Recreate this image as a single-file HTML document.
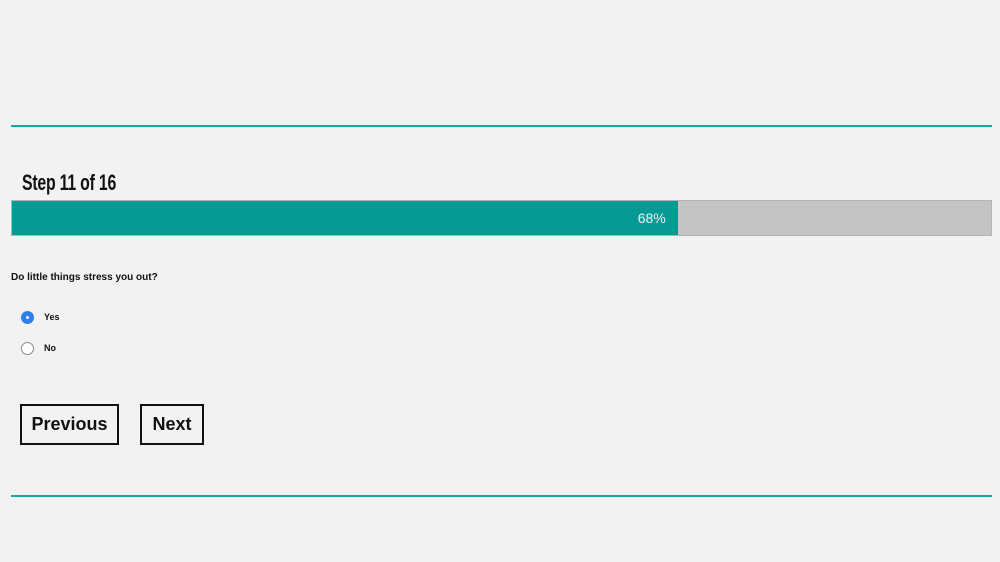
<!DOCTYPE html>
<html><head><meta charset="utf-8">
<style>
html,body{margin:0;padding:0;}
body{width:1000px;height:562px;background:#f2f2f3;position:relative;overflow:hidden;font-family:"Liberation Sans","DejaVu Sans",sans-serif;color:#111;}
.rule{position:absolute;left:11px;width:981px;height:2px;background:#1aa6a4;}
#title{position:absolute;left:22px;top:170px;font-family:"Liberation Sans Narrow","Liberation Sans",sans-serif;font-weight:bold;font-size:22px;transform:scaleX(0.72);transform-origin:left;letter-spacing:-0.3px;}
#bar{position:absolute;left:11px;top:200px;width:979px;height:34px;background:#c4c4c4;border:1px solid #b4b4b4;}
#fill{position:absolute;left:0;top:0;height:100%;background:#069a95;}
#pct{position:absolute;right:12px;top:9px;color:#f0f0f0;font-size:14px;}
#q{position:absolute;left:11px;top:272px;font-size:10px;font-weight:bold;}
.opt{position:absolute;left:21px;font-size:9px;font-weight:bold;}
.radio{position:absolute;left:0;top:0;width:13px;height:13px;border-radius:50%;border:1px solid #888;background:#fff;box-sizing:border-box;}
.radio.on{background:#2f7ff0;border-color:#2f7ff0;}
.radio.on::after{content:"";position:absolute;left:4px;top:4px;width:3px;height:3px;border-radius:50%;background:#fff;}
.opt span.l{position:absolute;left:23px;top:1px;white-space:nowrap;}
.btn{position:absolute;top:404px;height:41px;border:2px solid #111;box-sizing:border-box;font-size:18px;font-weight:bold;line-height:37px;text-align:center;background:transparent;color:#111;}
</style></head><body>
<div class="rule" style="top:125px"></div>
<div id="title">Step 11 of 16</div>
<div id="bar">
  <div id="fill"><span id="pct"></span></div>
</div>
<div id="q">Do little things stress you out?</div>
<div class="opt" style="top:311px"><div class="radio on"></div><span class="l">Yes</span></div>
<div class="opt" style="top:342px"><div class="radio"></div><span class="l">No</span></div>
<div class="btn" style="left:20px;width:99px">Previous</div>
<div class="btn" style="left:140px;width:64px">Next</div>
<div class="rule" style="top:495px"></div>
<script>
const progress = [68];
const maxProgress = [100];
const fill = document.getElementById('fill');
fill.style.width = (progress[0] / maxProgress[0] * 100) + '%';
document.getElementById('pct').textContent = progress[0] + '%';
</script>
</body></html>
